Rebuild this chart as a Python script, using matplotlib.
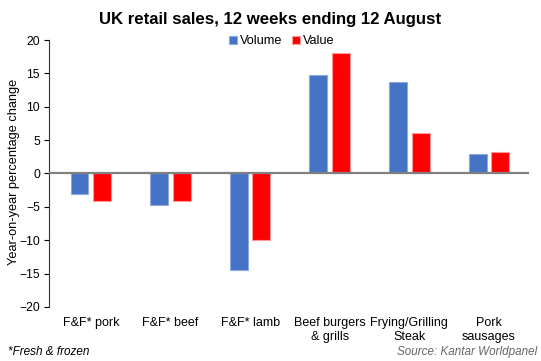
import numpy as np
import matplotlib.pyplot as plt

plt.rcParams['font.family'] = ['Liberation Sans', 'DejaVu Sans']

categories = ['F&F* pork', 'F&F* beef', 'F&F* lamb', 'Beef burgers\n& grills',
              'Frying/Grilling\nSteak', 'Pork\nsausages']
volume = [-3.1, -4.7, -14.4, 14.7, 13.7, 2.9]
value = [-4.1, -4.1, -10.0, 18.1, 6.0, 3.2]

fig = plt.figure(figsize=(5.41, 3.61), dpi=100)
ax = fig.add_axes([0.0906, 0.150, 0.887, 0.739])

x = np.arange(len(categories))
w = 0.225
ax.bar(x - 0.142, volume, w, color='#4472C4', edgecolor='#8FAADC', linewidth=0.8, label='Volume')
ax.bar(x + 0.142, value, w, color='#FF0000', edgecolor='#FF9999', linewidth=0.8, label='Value')

ax.axhline(0, color='#808080', lw=1.6, zorder=3)
ax.set_xlim(-0.525, 5.5)
ax.set_ylim(-20, 20)
ax.set_yticks(range(-20, 21, 5))
ax.set_xticks(x)
ax.set_xticklabels(categories, fontsize=9, linespacing=1.3)
ax.tick_params(axis='x', length=0, pad=7)
ax.tick_params(axis='y', length=3.5, width=0.8, labelsize=8.7, pad=3)
for s in ['top', 'right', 'bottom']:
    ax.spines[s].set_visible(False)
ax.spines['left'].set_color('#333333')
ax.spines['left'].set_linewidth(0.8)

fig.text(0.025, 0.524, 'Year-on-year percentage change', rotation=90, ha='center', va='center',
         fontsize=9.2)
fig.text(0.5, 0.946, 'UK retail sales, 12 weeks ending 12 August', ha='center', va='center',
         fontsize=12.1, fontweight='bold')
fig.legend(loc='center', bbox_to_anchor=(0.521, 0.886), ncol=2, frameon=False, fontsize=9.2,
           handlelength=0.6, handleheight=0.6, handletextpad=0.2, columnspacing=0.8)
fig.text(0.015, 0.026, '*Fresh & frozen', fontsize=8.5, style='italic', ha='left', va='center')
fig.text(0.993, 0.026, 'Source: Kantar Worldpanel', fontsize=8.4, style='italic', color='#666666',
         ha='right', va='center')

fig.savefig('out.png', dpi=100)
